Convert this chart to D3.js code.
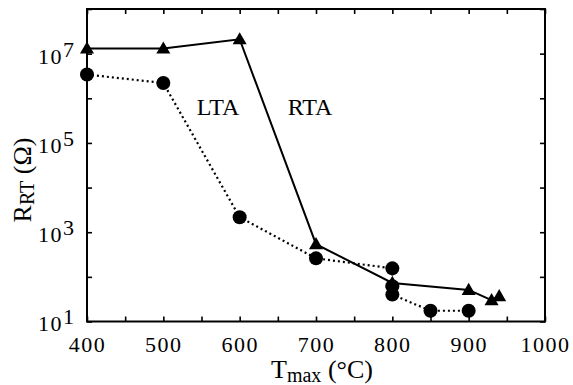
<!DOCTYPE html>
<html>
<head>
<meta charset="utf-8">
<script src="https://cdn.jsdelivr.net/npm/d3@7"></script>
<style>
  body { margin: 0; background: #fff; }
  svg { display: block; font-family: "Liberation Serif", "Times New Roman", serif; }
</style>
</head>
<body>
<div id="chart"></div>
<script>
// RTA (solid, triangles)
const rtaTemp = [400, 500, 600, 700, 800, 900, 930, 940];
const rtaR = [1.3e7, 1.3e7, 2.1e7, 540, 73, 51, 30, 37];
// LTA (dotted, circles)
const ltaTemp = [400, 500, 600, 700, 800, 800, 800, 850, 900];
const ltaR = [3.4e6, 2.2e6, 2170, 260, 155, 62, 40, 17.4, 17.4];

const xTicks = [400, 450, 500, 550, 600, 650, 700, 750, 800, 850, 900, 950, 1000];
const xLabels = [400, 500, 600, 700, 800, 900, 1000];
const yTicks = [1e1, 1e2, 1e3, 1e4, 1e5, 1e6, 1e7, 1e8];
const yLabelExps = [1, 3, 5, 7];

const W = 573, H = 385;
const mLeft = 87, mRight = 545, mTop = 9, mBottom = 321.5;

const svg = d3.select('#chart').append('svg')
  .attr('width', W).attr('height', H);

const x = d3.scaleLinear().domain([400, 1000]).range([mLeft, mRight]);
const y = d3.scaleLog().domain([1e1, 1e8]).range([mBottom, mTop]);

// ticks, inward
const gx = svg.append('g')
  .attr('transform', 'translate(0,' + mBottom + ')')
  .call(d3.axisBottom(x).tickValues(xTicks).tickSizeInner(-5).tickSizeOuter(0).tickPadding(15)
    .tickFormat(d => xLabels.includes(d) ? d : ''));
svg.append('g')
  .attr('transform', 'translate(0,' + mTop + ')')
  .call(d3.axisTop(x).tickValues(xTicks).tickSizeInner(-5).tickSizeOuter(0).tickFormat(''));
const gy = svg.append('g')
  .attr('transform', 'translate(' + mLeft + ',0)')
  .call(d3.axisLeft(y).tickValues(yTicks).tickSizeInner(-5).tickSizeOuter(0).tickPadding(14)
    .tickFormat(d => ''));
svg.append('g')
  .attr('transform', 'translate(' + mRight + ',0)')
  .call(d3.axisRight(y).tickValues(yTicks).tickSizeInner(-5).tickSizeOuter(0).tickFormat(''));

svg.selectAll('.domain').remove();
svg.selectAll('.tick line').attr('stroke', '#000').attr('stroke-width', 1.6);

gx.selectAll('text')
  .attr('font-size', 22).attr('letter-spacing', 1.5)
  .attr('font-family', '"Liberation Serif", serif').attr('fill', '#000');

gy.selectAll('.tick').each(function (d) {
  const e = Math.round(Math.log10(d));
  const t = d3.select(this).select('text');
  if (!yLabelExps.includes(e)) return;
  t.attr('font-size', 22).attr('font-family', '"Liberation Serif", serif')
    .attr('fill', '#000').attr('x', -13).attr('dy', '0.43em').attr('letter-spacing', 1.5);
  t.append('tspan').text('10');
  t.append('tspan').attr('dy', -7).attr('letter-spacing', 0).text(e);
});

// frame
svg.append('rect')
  .attr('x', mLeft).attr('y', mTop)
  .attr('width', mRight - mLeft).attr('height', mBottom - mTop)
  .attr('fill', 'none').attr('stroke', '#000').attr('stroke-width', 2);

// series
const line = d3.line().x(d => x(d[0])).y(d => y(d[1]));
const rta = rtaTemp.map((t, i) => [t, rtaR[i]]);
const lta = ltaTemp.map((t, i) => [t, ltaR[i]]);

svg.append('path').datum(lta)
  .attr('d', line).attr('fill', 'none').attr('stroke', '#000')
  .attr('stroke-width', 2.2).attr('stroke-dasharray', '2,3');
svg.append('path').datum(rta)
  .attr('d', line).attr('fill', 'none').attr('stroke', '#000')
  .attr('stroke-width', 2);

svg.append('g').selectAll('circle').data(lta).enter().append('circle')
  .attr('cx', d => x(d[0])).attr('cy', d => y(d[1])).attr('r', 7).attr('fill', '#000');

const tri = d3.symbol().type(d3.symbolTriangle).size(85);
svg.append('g').selectAll('path').data(rta).enter().append('path')
  .attr('d', tri)
  .attr('transform', d => 'translate(' + x(d[0]) + ',' + (y(d[1]) + 1) + ')')
  .attr('fill', '#000');

// annotations
svg.append('text').attr('x', 218).attr('y', 115).attr('text-anchor', 'middle')
  .attr('font-size', 24).text('LTA');
svg.append('text').attr('x', 310).attr('y', 115).attr('text-anchor', 'middle')
  .attr('font-size', 24).text('RTA');

// axis titles
const xt = svg.append('text').attr('x', 322).attr('y', 378).attr('text-anchor', 'middle')
  .attr('font-size', 26);
xt.append('tspan').text('T');
xt.append('tspan').attr('font-size', 20).attr('dy', 4).text('max');
xt.append('tspan').attr('dy', -4).text(' (°C)');

const yt = svg.append('text').attr('transform', 'translate(31,180) rotate(-90)')
  .attr('text-anchor', 'middle').attr('font-size', 26);
yt.append('tspan').text('R');
yt.append('tspan').attr('font-size', 20).attr('dy', 3).text('RT');
yt.append('tspan').attr('dy', -3).text(' (Ω)');
</script>
</body>
</html>
